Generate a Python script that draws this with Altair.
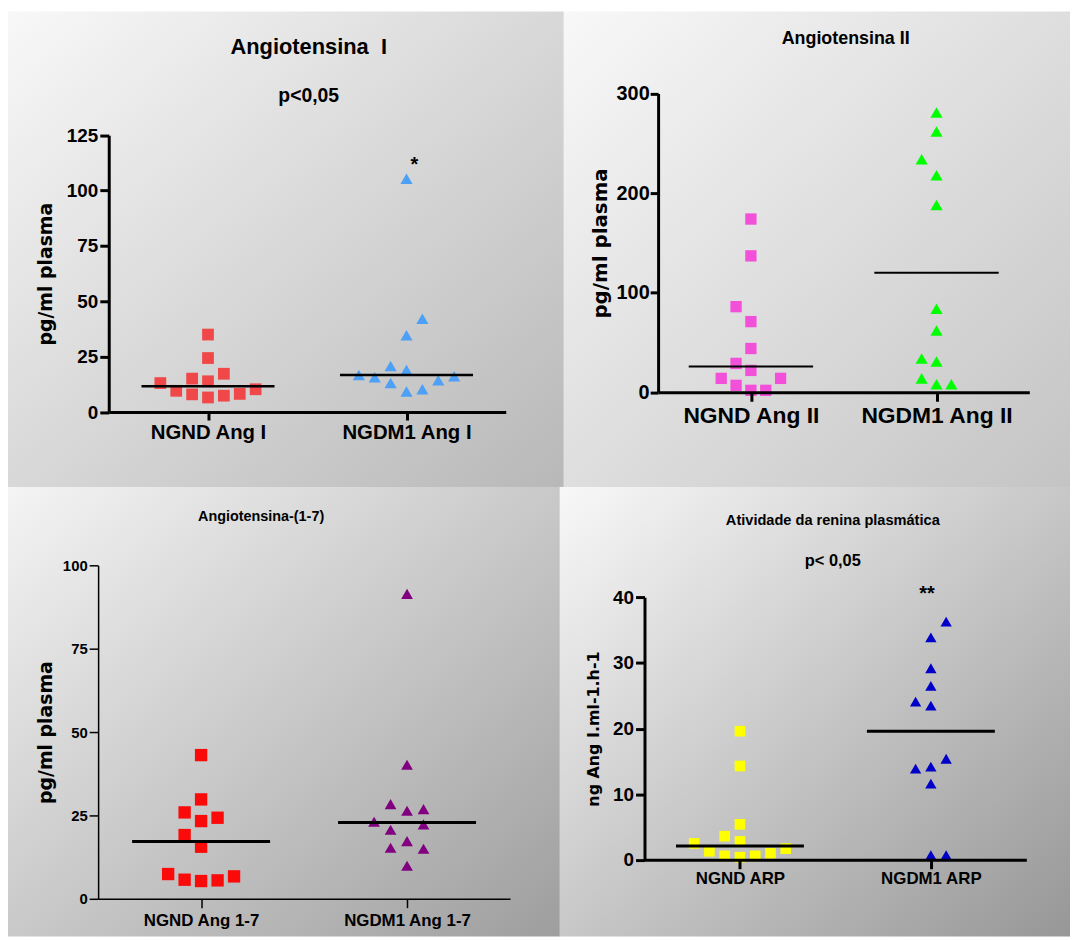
import json
import altair as alt
import pandas as pd

# ---------------- data ----------------
# Panel 1: Angiotensina I
ang1_categories = ["NGND Ang I", "NGDM1 Ang I"]
ang1_ngnd = [13.1, 9.6, 15.1, 8.0, 35.0, 24.4, 13.9, 6.6, 17.3, 7.4, 8.2, 10.3]
ang1_ngnd_col = [-3, -2, -1, -1, 0, 0, 0, 0, 1, 1, 2, 3]
ang1_ngdm1 = [16.7, 15.7, 20.8, 13.1, 105.4, 34.7, 19.0, 9.3, 42.1, 10.3, 14.4, 16.2]
ang1_ngdm1_col = [-3, -2, -1, -1, 0, 0, 0, 0, 1, 1, 2, 3]
ang1_center = [11.7, 16.7]
ang1_ticks = [0, 25, 50, 75, 100, 125]
ang1_note_text = ["*"]
ang1_note_x = [1.04]
ang1_note_y = [109]

# Panel 2: Angiotensina II
ang2_categories = ["NGND Ang II", "NGDM1 Ang II"]
ang2_ngnd = [174, 137, 86, 71, 44, 29, 22, 14, 14, 7, 2, 2]
ang2_ngnd_col = [0, 0, -1, 0, 0, -1, 0, -2, 2, -1, 0, 1]
ang2_ngdm1 = [281, 262, 234, 218, 188, 84, 62, 34, 31, 14, 8, 8]
ang2_ngdm1_col = [0, 0, -1, 0, 0, 0, 0, -1, 0, -1, 0, 1]
ang2_center = [26, 120]
ang2_ticks = [0, 100, 200, 300]

# Panel 3: Angiotensina-(1-7)
a17_categories = ["NGND Ang 1-7", "NGDM1 Ang 1-7"]
a17_ngnd = [43.1, 29.8, 25.9, 23.3, 24.3, 19.1, 15.6, 7.4, 5.7, 5.3, 5.5, 6.7]
a17_ngnd_col = [0, 0, -1, 0, 1, -1, 0, -2, -1, 0, 1, 2]
a17_ngdm1 = [91.5, 40.2, 28.4, 26.4, 26.9, 23.1, 20.7, 22.3, 17.3, 15.3, 15.0, 9.9]
a17_ngdm1_col = [0, 0, -1, 0, 1, -2, -1, 1, 0, -1, 1, 0]
a17_center = [17.2, 22.9]
a17_ticks = [0, 25, 50, 75, 100]

# Panel 4: Atividade da renina plasmatica
arp_categories = ["NGND ARP", "NGDM1 ARP"]
arp_ngnd = [19.6, 14.3, 5.4, 3.6, 2.8, 2.5, 1.3, 1.7, 0.6, 0.4, 0.6, 1.0]
arp_ngnd_col = [0, 0, 0, -1, 0, -3, -2, 3, -1, 0, 1, 2]
arp_ngdm1 = [36.3, 33.9, 29.2, 26.5, 24.1, 23.5, 15.4, 13.9, 14.2, 11.6, 0.7, 0.7]
arp_ngdm1_col = [1, 0, 0, 0, -1, 0, 1, -1, 0, 0, 0, 1]
arp_center = [2.1, 19.6]
arp_ticks = [0, 10, 20, 30, 40]
arp_note_text = ["**"]
arp_note_x = [0.98]
arp_note_y = [39.6]

STEP = 0.08   # horizontal spacing of point columns (category units)
HALF = 0.335  # half length of the central line (category units)
LABEL_FONT = "Liberation Sans"
TITLE_FONT = "DejaVu Sans"


def gradient(c0, c1):
    return alt.LinearGradient(
        gradient="linear",
        stops=[alt.GradientStop(offset=0, color=c0), alt.GradientStop(offset=1, color=c1)],
        x1=0, y1=0, x2=1, y2=1,
    )


def make_panel(cats, v0, c0, v1, c1, centers, ticks, ytitle, notes, geo, st):
    W, H = geo["W"], geo["H"]
    xs = alt.Scale(domain=[-0.5, 1.5], range=[geo["ax"], geo["xend"]], nice=False, zero=False)
    ys = alt.Scale(domain=[ticks[0], ticks[-1]], range=[geo["y0"], geo["ytop"]], nice=False, zero=False)
    xaxis = alt.Axis(
        values=[0, 1], labelExpr=json.dumps(cats) + "[datum.value]", title=None,
        orient="bottom", offset=geo["y0"] - H, grid=False, zindex=1,
        domainColor="black", domainWidth=st["dw"], tickColor="black", tickWidth=st["dw"],
        tickSize=st["xtick"], labelFont=LABEL_FONT, labelFontWeight="bold",
        labelFontSize=st["xlab"], labelColor="black", labelPadding=st["xpad"],
        labelFlush=False, labelOverlap=False,
    )
    yaxis = alt.Axis(
        values=ticks, format="d", title=ytitle, orient="left", offset=-geo["ax"],
        grid=False, zindex=1, domainColor="black", domainWidth=st["dw"],
        tickColor="black", tickWidth=st["dw"], tickSize=st["ytick"],
        labelFont=LABEL_FONT, labelFontWeight="bold", labelFontSize=st["ylab"],
        labelColor="black", labelPadding=st["ypad"], labelFlush=False, labelOverlap=False,
        titleFont=TITLE_FONT, titleFontWeight="bold", titleFontSize=st["ytit"],
        titleColor="black", titleAngle=270, titleAlign="center", titleBaseline="middle",
        titleX=st["tx"], titleY=(geo["y0"] + geo["ytop"]) / 2,
    )

    bg = alt.Chart(pd.DataFrame({"k": [0]})).mark_rect(
        fill=gradient(*st["bg"]), strokeWidth=0
    ).encode(x=alt.value(0), x2=alt.value(W), y=alt.value(0), y2=alt.value(H))

    def points(vals, cols, g, shape, color, size):
        df = pd.DataFrame({"val": vals, "col": cols, "g": [g] * len(vals)})
        return alt.Chart(df).transform_calculate(
            xpos=f"datum.g + datum.col * {STEP}"
        ).mark_point(shape=shape, filled=True, size=size, color=color, opacity=1, strokeWidth=0).encode(
            x=alt.X("xpos:Q", scale=xs, axis=xaxis),
            y=alt.Y("val:Q", scale=ys, axis=yaxis),
        )

    p0 = points(v0, c0, 0, "square", st["colors"][0], st["sq"])
    p1 = points(v1, c1, 1, "triangle-up", st["colors"][1], st["tri"])

    dfc = pd.DataFrame({"g": [0, 1], "val": centers})
    rule = alt.Chart(dfc).transform_calculate(
        lo=f"datum.g - {HALF}", hi=f"datum.g + {HALF}"
    ).mark_rule(color="black", strokeWidth=st["lw"]).encode(
        x=alt.X("lo:Q", scale=xs, axis=xaxis), x2="hi:Q",
        y=alt.Y("val:Q", scale=ys, axis=yaxis),
    )

    layers = [bg, p0, p1, rule]
    if notes is not None:
        dfn = pd.DataFrame({"t": notes[0], "nx": notes[1], "ny": notes[2]})
        layers.append(
            alt.Chart(dfn).mark_text(
                font=LABEL_FONT, fontWeight="bold", fontSize=20, color="black",
                align="center", baseline="alphabetic",
            ).encode(
                x=alt.X("nx:Q", scale=xs, axis=xaxis),
                y=alt.Y("ny:Q", scale=ys, axis=yaxis),
                text="t:N",
            )
        )

    tkw = dict(
        text=st["title"], anchor="middle", frame="group", offset=st["toff"], dx=st["tdx"],
        font=LABEL_FONT, fontSize=st["tfs"], fontWeight="bold", color="black", zindex=1,
    )
    if st.get("sub"):
        tkw.update(subtitle=st["sub"], subtitleFont=LABEL_FONT, subtitleFontSize=st["sfs"],
                   subtitleFontWeight="bold", subtitleColor="black", subtitlePadding=st["spad"])
    return alt.layer(*layers).properties(width=W, height=H, title=alt.TitleParams(**tkw))


tl = make_panel(
    ang1_categories, ang1_ngnd, ang1_ngnd_col, ang1_ngdm1, ang1_ngdm1_col, ang1_center,
    ang1_ticks, "pg/ml plasma", (ang1_note_text, ang1_note_x, ang1_note_y),
    dict(W=560, H=479, ax=101.5, xend=501.5, y0=403.6, ytop=124.7),
    dict(dw=3, xtick=8, ytick=9, xlab=20.5, ylab=19, xpad=3, ypad=2, ytit=19, tx=-63.9,
         lw=2.5, sq=140, tri=150, colors=["#f04848", "#4da0f5"], bg=("#f8f8f8", "#b8b8b8"),
         title="Angiotensina\u00a0\u00a0I", tfs=22, sub="p<0,05", sfs=19.5, spad=28,
         toff=-95.5, tdx=23),
)

tr = make_panel(
    ang2_categories, ang2_ngnd, ang2_ngnd_col, ang2_ngdm1, ang2_ngdm1_col, ang2_center,
    ang2_ticks, "pg/ml plasma", None,
    dict(W=510, H=479, ax=95, xend=469, y0=383.7, ytop=82.7),
    dict(dw=3, xtick=9, ytick=8, xlab=23, ylab=20, xpad=3, ypad=1, ytit=20, tx=-58,
         lw=2, sq=130, tri=150, colors=["#f250d8", "#00ff00"], bg=("#f8f8f8", "#c4c4c4"),
         title="Angiotensina II", tfs=18, toff=-37, tdx=29),
)

bl = make_panel(
    a17_categories, a17_ngnd, a17_ngnd_col, a17_ngdm1, a17_ngdm1_col, a17_center,
    a17_ticks, "pg/ml plasma", None,
    dict(W=556, H=453, ax=90.8, xend=505.8, y0=414.9, ytop=79.2),
    dict(dw=1.5, xtick=9, ytick=9, xlab=17, ylab=15, xpad=5, ypad=2, ytit=19, tx=-53.2,
         lw=3, sq=155, tri=140, colors=["#fb0a0a", "#800080"], bg=("#f4f4f4", "#9e9e9e"),
         title="Angiotensina-(1-7)", tfs=14.5, toff=-37.5, tdx=-23),
)

br = make_panel(
    arp_categories, arp_ngnd, arp_ngnd_col, arp_ngdm1, arp_ngdm1_col, arp_center,
    arp_ticks, "ng Ang I.ml-1.h-1", (arp_note_text, arp_note_x, arp_note_y),
    dict(W=514, H=453, ax=85.3, xend=470, y0=375.7, ytop=111.3),
    dict(dw=3, xtick=9, ytick=9, xlab=17, ylab=19, xpad=2, ypad=2, ytit=16, tx=-51.3,
         lw=3, sq=115, tri=130, colors=["#ffff00", "#0000c8"], bg=("#f8f8f8", "#979797"),
         title="Atividade da renina plasmática", tfs=14.7, sub="p< 0,05", sfs=16.5, spad=26,
         toff=-83.5, tdx=18),
)

chart = alt.vconcat(
    alt.hconcat(tl, tr, spacing=0),
    alt.hconcat(bl, br, spacing=0),
    spacing=0,
).properties(padding=0).configure_view(strokeWidth=0)

chart.save("out.html", embed_options={"renderer": "svg", "actions": False})
